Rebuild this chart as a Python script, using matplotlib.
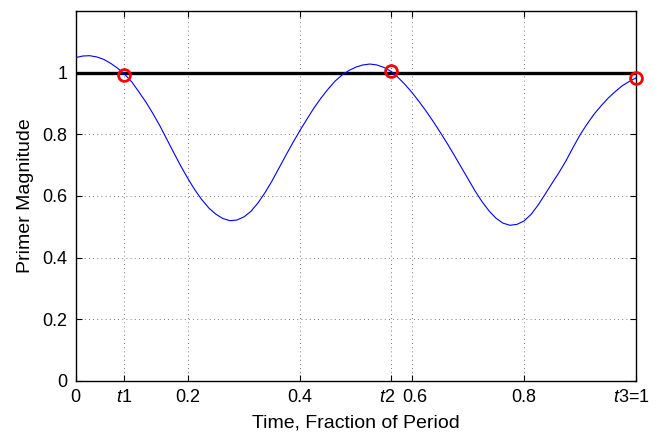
import matplotlib
matplotlib.use("Agg")
import matplotlib.pyplot as plt
from matplotlib.transforms import ScaledTranslation

plt.rcParams["font.family"] = ["Liberation Sans", "DejaVu Sans"]
plt.rcParams["mathtext.fontset"] = "custom"
plt.rcParams["mathtext.rm"] = "Liberation Sans"
plt.rcParams["mathtext.it"] = "Liberation Sans:italic"

# primer magnitude curve
time = [0.000, 0.0125, 0.025, 0.0375, 0.050, 0.0625, 0.075, 0.0866, 0.100, 0.1125,
        0.125, 0.1375, 0.150, 0.1625, 0.175, 0.1875, 0.200, 0.2125, 0.225, 0.2375,
        0.250, 0.2625, 0.275, 0.2875, 0.300, 0.3125, 0.325, 0.3375, 0.350, 0.3625,
        0.375, 0.3875, 0.400, 0.4125, 0.425, 0.4375, 0.450, 0.4625, 0.475, 0.4875,
        0.500, 0.5125, 0.525, 0.5375, 0.550, 0.563, 0.575, 0.5875, 0.600, 0.6125,
        0.625, 0.6375, 0.650, 0.6625, 0.675, 0.6875, 0.700, 0.7125, 0.725, 0.7375,
        0.750, 0.7625, 0.775, 0.7875, 0.800, 0.8125, 0.825, 0.8375, 0.850, 0.8625,
        0.875, 0.8875, 0.900, 0.9125, 0.925, 0.9375, 0.950, 0.9625, 0.975, 0.9875,
        1.000]
magnitude = [1.049, 1.054, 1.055, 1.051, 1.043, 1.030, 1.014, 0.996, 0.970, 0.938,
             0.905, 0.868, 0.828, 0.784, 0.740, 0.697, 0.657, 0.620, 0.588, 0.561,
             0.541, 0.527, 0.520, 0.522, 0.532, 0.550, 0.577, 0.610, 0.648, 0.690,
             0.732, 0.773, 0.812, 0.849, 0.885, 0.917, 0.946, 0.972, 0.992, 1.007,
             1.018, 1.025, 1.028, 1.025, 1.017, 1.004, 0.985, 0.962, 0.936, 0.907,
             0.876, 0.843, 0.808, 0.772, 0.734, 0.695, 0.656, 0.617, 0.582, 0.552,
             0.528, 0.512, 0.505, 0.508, 0.519, 0.540, 0.570, 0.605, 0.641, 0.676,
             0.714, 0.757, 0.798, 0.833, 0.865, 0.892, 0.917, 0.938, 0.957, 0.971,
             0.983]

# impulse times and primer values there
impulse_t = [0.0866, 0.563, 1.0]
impulse_p = [0.994, 1.005, 0.983]

x_ticks = [0, 0.0866, 0.2, 0.4, 0.563, 0.6, 0.8, 1.0]
x_labels = ["0", r"$\mathit{t}$1", "0.2", "0.4", r"$\mathit{t}$2", "0.6", "0.8",
            r"$\mathit{t}$3=1"]
y_ticks = [0, 0.2, 0.4, 0.6, 0.8, 1.0]
y_labels = ["0", "0.2", "0.4", "0.6", "0.8", "1"]

fig = plt.figure(figsize=(6.63, 4.33), dpi=100)
ax = fig.add_axes([0.1143, 0.1201, 0.8450, 0.8545])

ax.axhline(1.0, color="black", lw=2.4, zorder=2)
ax.plot(time, magnitude, color="blue", lw=0.8, zorder=3)
ax.plot(impulse_t, impulse_p, "o", mfc="none", mec="red", mew=2.0, ms=8.5,
        clip_on=False, zorder=4)

ax.set_xlim(0, 1)
ax.set_ylim(0, 1.2)
ax.set_xticks(x_ticks)
ax.set_xticklabels(x_labels)
ax.set_yticks(y_ticks)
ax.set_yticklabels(y_labels)
ax.tick_params(direction="in", length=4, width=0.8, top=True, right=True,
               labelsize=13, pad=6, colors="black")
ax.grid(True, linestyle=(0, (1, 4)), color="black", lw=0.6, alpha=0.7)
for s in ax.spines.values():
    s.set_linewidth(1.0)

# nudge crowded tick labels apart (pixels)
nudges = {4: -4, 5: 3, 7: -5}
for i, lab in enumerate(ax.get_xticklabels()):
    if i in nudges:
        lab.set_transform(lab.get_transform()
                          + ScaledTranslation(nudges[i] / 100, 0, fig.dpi_scale_trans))

ax.set_xlabel("Time, Fraction of Period", fontsize=14, labelpad=6)
ax.set_ylabel("Primer Magnitude", fontsize=14, labelpad=6)

fig.savefig("out.png", dpi=100)
